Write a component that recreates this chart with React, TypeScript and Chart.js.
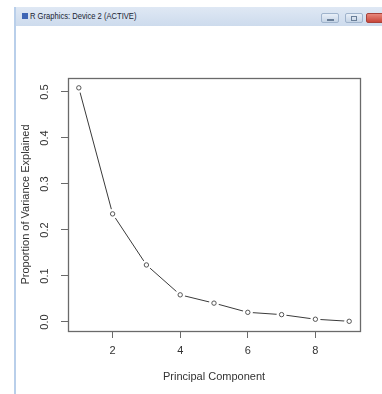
import React, { useEffect, useRef } from "react";
import { Chart, registerables } from "chart.js";

Chart.register(...registerables);

const components = [1, 2, 3, 4, 5, 6, 7, 8, 9];
const pve = [0.509, 0.235, 0.124, 0.059, 0.041, 0.021, 0.016, 0.006, 0.0015];
const xTickValues = [2, 4, 6, 8];
const yTickValues = [0, 0.1, 0.2, 0.3, 0.4, 0.5];
const yTickLabels = ["0.0", "0.1", "0.2", "0.3", "0.4", "0.5"];
const xTitle = "Principal Component";
const yTitle = "Proportion of Variance Explained";
const windowTitle = "R Graphics: Device 2 (ACTIVE)";

const FONT = "'Liberation Sans', Arial, sans-serif";
const INK = "#333";
const AXIS = "#6a6a6a";

const boxPlugin = {
  id: "rbox",
  afterDraw(chart: any) {
    const { ctx, chartArea } = chart;
    ctx.save();
    ctx.strokeStyle = AXIS;
    ctx.lineWidth = 1.3;
    ctx.strokeRect(
      Math.round(chartArea.left) + 0.5,
      Math.round(chartArea.top) + 0.5,
      Math.round(chartArea.right - chartArea.left),
      Math.round(chartArea.bottom - chartArea.top)
    );
    // rotated y tick labels (R style, parallel to axis)
    const ys = chart.scales.y;
    ctx.fillStyle = INK;
    ctx.font = `11px ${FONT}`;
    ctx.textAlign = "center";
    ctx.textBaseline = "alphabetic";
    yTickValues.forEach((v, i) => {
      const py = ys.getPixelForValue(v);
      ctx.save();
      ctx.translate(47.5, py);
      ctx.rotate(-Math.PI / 2);
      ctx.fillText(yTickLabels[i], 0, 0);
      ctx.restore();
    });
    ctx.restore();
  },
};

export default function App() {
  const ref = useRef<HTMLCanvasElement>(null);

  useEffect(() => {
    if (!ref.current) return;
    const points = components.map((c, i) => ({ x: c, y: pve[i] }));
    const chart = new Chart(ref.current, {
      type: "scatter",
      data: {
        datasets: [
          {
            // open circles (drawn on top)
            data: points,
            showLine: false,
            pointRadius: 2.2,
            pointBackgroundColor: "#ffffff",
            pointBorderColor: "#555",
            pointBorderWidth: 1,
          },
          {
            // connecting line, with white halos giving R's type="b" gaps
            data: points,
            showLine: true,
            borderColor: "#3a3a3a",
            borderWidth: 1,
            pointRadius: 5,
            pointBackgroundColor: "#ffffff",
            pointBorderColor: "#ffffff",
            pointBorderWidth: 0,
            tension: 0,
          },
        ],
      },
      options: {
        responsive: false,
        animation: false,
        devicePixelRatio: 1,
        layout: { padding: { top: 78, right: 22, left: 0, bottom: 0 } },
        plugins: {
          legend: { display: false },
          tooltip: { enabled: false },
        },
        scales: {
          x: {
            type: "linear",
            min: 0.68,
            max: 9.32,
            afterBuildTicks: (s: any) => {
              s.ticks = xTickValues.map((v) => ({ value: v }));
            },
            afterFit: (s: any) => {
              s.height = 63;
            },
            ticks: {
              color: INK,
              font: { size: 11, family: FONT },
              padding: 6,
              maxRotation: 0,
              autoSkip: false,
              callback: (v: any) => String(v),
            },
            grid: {
              display: true,
              drawOnChartArea: false,
              drawTicks: true,
              tickLength: 7,
              color: AXIS,
            },
            border: { display: false },
            title: {
              display: true,
              text: xTitle,
              color: INK,
              font: { size: 11, family: FONT },
              padding: { top: 0, bottom: 10.4 },
            },
          },
          y: {
            type: "linear",
            min: -0.0196,
            max: 0.5304,
            afterBuildTicks: (s: any) => {
              s.ticks = yTickValues.map((v) => ({ value: v }));
            },
            afterFit: (s: any) => {
              s.width = 68;
            },
            ticks: { display: false },
            grid: {
              display: true,
              drawOnChartArea: false,
              drawTicks: true,
              tickLength: 7,
              color: AXIS,
            },
            border: { display: false },
            title: {
              display: true,
              text: yTitle,
              color: INK,
              font: { size: 11, family: FONT },
              padding: { top: 19, bottom: 0 },
            },
          },
        },
      },
      plugins: [boxPlugin],
    });
    return () => chart.destroy();
  }, []);

  const btn: React.CSSProperties = {
    position: "absolute",
    top: 13,
    height: 10,
    borderRadius: 2,
    border: "1px solid #9fb3cc",
    background: "linear-gradient(#e8eff8, #c5d4e6)",
    boxSizing: "border-box",
  };

  return (
    <div
      style={{
        position: "fixed",
        left: 0,
        top: 0,
        width: 382,
        height: 394,
        background: "#fff",
        overflow: "hidden",
      }}
    >
      {/* window frame */}
      <div
        style={{
          position: "absolute",
          left: 14,
          top: 7,
          width: 368,
          height: 19,
          background: "linear-gradient(#dfe8f4, #cddbed)",
        }}
      />
      <div
        style={{
          position: "absolute",
          left: 14,
          top: 7,
          width: 2,
          height: 387,
          background: "#b9cfea",
        }}
      />
      <div
        style={{
          position: "absolute",
          left: 22,
          top: 13,
          width: 6,
          height: 6,
          background: "#3f66b5",
        }}
      />
      <div
        style={{
          position: "absolute",
          left: 30,
          top: 9,
          fontFamily: FONT,
          fontSize: 9.5,
          color: "#1a2433",
          lineHeight: "14px",
          whiteSpace: "nowrap",
          transform: "scaleX(0.8)",
          transformOrigin: "left center",
        }}
      >
        {windowTitle}
      </div>
      <div style={{ ...btn, left: 321, width: 18 }}>
        <div style={{ position: "absolute", left: 5, top: 5, width: 7, height: 2, background: "#6a7f99" }} />
      </div>
      <div style={{ ...btn, left: 345, width: 18 }}>
        <div style={{ position: "absolute", left: 5, top: 1.5, width: 6, height: 5, border: "1px solid #6a7f99", boxSizing: "border-box" }} />
      </div>
      <div
        style={{
          ...btn,
          left: 366,
          width: 20,
          border: "1px solid #a8423a",
          background: "linear-gradient(#e8877b, #c8463a)",
        }}
      />
      <canvas
        ref={ref}
        width={382}
        height={394}
        style={{ position: "absolute", left: 0, top: 0, width: 382, height: 394 }}
      />
    </div>
  );
}
